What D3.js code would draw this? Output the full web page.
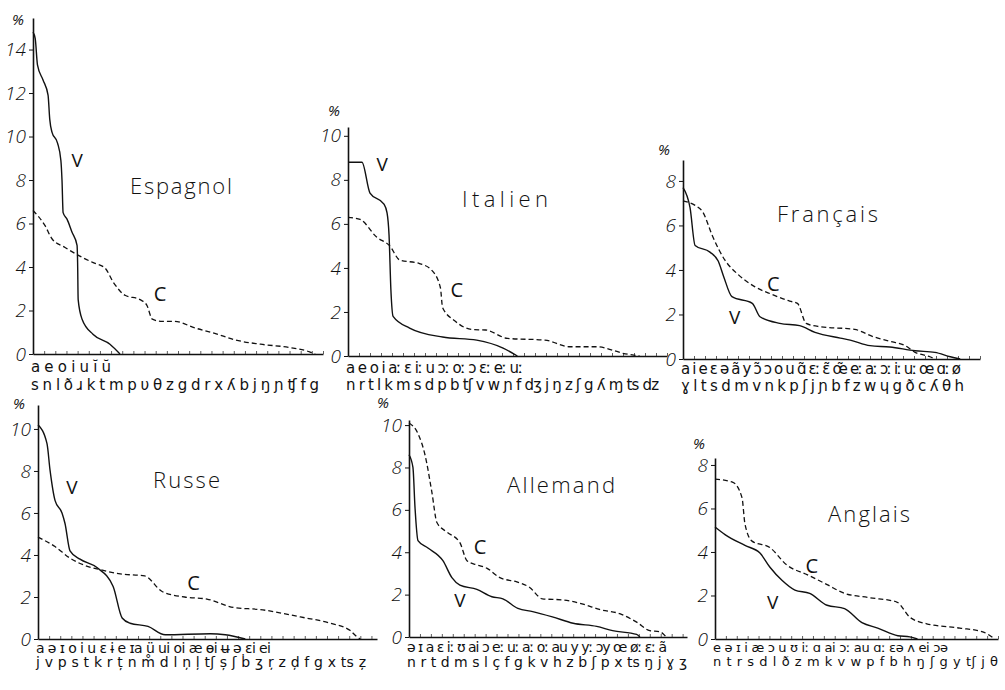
<!DOCTYPE html>
<html>
<head>
<meta charset="utf-8">
<script src="https://cdn.jsdelivr.net/npm/d3@7"></script>
<style>
  body { margin: 0; background: #fff; }
  svg { display: block; }
</style>
</head>
<body>
<svg id="chart" width="1005" height="690"></svg>
<script>
// Fréquence des phonèmes classés par rang (V = voyelles, C = consonnes)
// x = rang du phonème, y = fréquence en %

const espVowels = ["a", "e", "o", "i", "u", "ĭ", "ŭ"];
const espConsonants = ["s", "n", "l", "ð", "ɹ", "k", "t", "m", "p", "υ", "θ", "z", "g", "d", "r", "x", "ʎ", "b", "j", "ŋ", "ɲ", "ʧ", "f", "g"];
const espV = [[0, 14.8], [0.2, 14.5], [0.4, 13.3], [0.9, 12.6], [1.35, 11.9], [1.5, 10.8], [1.7, 10.2], [2.2, 9.7], [2.5, 8.9], [2.6, 8.0], [2.7, 6.5], [3.05, 6.2], [3.5, 5.6], [3.95, 5.0], [4.0, 4.2], [4.05, 2.5], [4.4, 1.6], [5.4, 0.9], [6.9, 0.45], [7.8, 0]];
const espC = [[0, 6.6], [1.08, 5.9], [1.7, 5.3], [2.87, 4.9], [4.2, 4.5], [5.4, 4.2], [6.46, 3.95], [7.2, 3.3], [8.25, 2.7], [9.6, 2.5], [10.2, 2.25], [10.7, 1.6], [11.6, 1.5], [12.7, 1.5], [14.5, 1.2], [16.3, 0.95], [18.1, 0.65], [20.4, 0.45], [23.0, 0.3], [24.8, 0.1], [25.3, 0]];
const espTicks = [0, 2, 4, 6, 8, 10, 12, 14];

const itaVowels = ["a", "e", "o", "i", "aː", "ɛ", "iː", "u", "ɔː", "oː", "ɔ", "ɛː", "eː", "uː"];
const itaConsonants = ["n", "r", "t", "l", "k", "m", "s", "d", "p", "b", "tʃ", "v", "w", "ɲ", "f", "dʒ", "j", "ŋ", "z", "ʃ", "g", "ʎ", "ɱ", "ts", "dz"];
const itaV = [[0, 8.8], [1.27, 8.8], [2.0, 7.4], [3.27, 6.9], [3.55, 6.5], [3.73, 5.5], [3.9, 3.0], [4.1, 1.8], [5.6, 1.27], [8.6, 0.86], [11.7, 0.72], [14.1, 0.36], [15.4, 0]];
const itaC = [[0, 6.3], [1.1, 6.2], [2.6, 5.4], [3.8, 5.0], [4.7, 4.36], [6.5, 4.2], [7.6, 3.9], [8.4, 3.1], [8.6, 2.2], [9.7, 1.6], [11.3, 1.2], [12.5, 1.18], [14.5, 0.8], [17.9, 0.72], [20.2, 0.42], [22.6, 0.42], [25.2, 0.1], [26.5, 0]];
const itaTicks = [0, 2, 4, 6, 8, 10];

const fraVowels = ["a", "i", "e", "ɛ", "ə", "ã", "y", "ɔ̃", "ɔ", "o", "u", "ɑ̃", "ɛː", "ɛ̃", "œ̃", "eː", "aː", "ɔː", "iː", "uː", "œ", "ɑː", "ø"];
const fraConsonants = ["ɣ", "l", "t", "s", "d", "m", "v", "n", "k", "p", "ʃ", "j", "ɲ", "b", "f", "z", "w", "ɥ", "g", "ð", "c", "ʎ", "θ", "h"];
const fraV = [[0, 7.7], [0.64, 6.8], [1.1, 5.1], [2.45, 4.8], [3.2, 4.4], [3.7, 3.7], [4.45, 2.8], [6.3, 2.5], [7.0, 1.9], [8.8, 1.6], [10.6, 1.5], [12.0, 1.2], [14.3, 0.94], [15.2, 0.85], [17.0, 0.6], [18.8, 0.54], [21.1, 0.37], [22.9, 0.3], [24.3, 0.1], [25.2, 0]];
const fraC = [[0, 7.1], [1.1, 6.9], [1.8, 6.6], [2.7, 5.5], [3.8, 4.45], [5.0, 3.8], [6.55, 3.24], [8.1, 2.9], [9.7, 2.6], [10.4, 2.5], [11.2, 1.6], [12.45, 1.45], [15.6, 1.33], [17.3, 1.0], [18.8, 0.8], [20.2, 0.6], [21.1, 0.3], [22.45, 0.1], [22.9, 0]];
const fraTicks = [0, 2, 4, 6, 8];

const rusVowels = ["a", "ə", "ɪ", "o", "i", "u", "ɛ", "ɨ", "e", "ɪa", "ü", "ui", "oi", "æ", "ɵi", "ʉ", "ə", "ɛi", "ei"];
const rusConsonants = ["j", "v", "p", "s", "t", "k", "r", "ț", "n", "m̊", "d", "l", "n̦", "l̦", "tʃ", "ș", "ʃ", "ḃ", "ʒ", "r̦", "z", "d̦", "f", "g", "x", "ts", "z̦"];
const rusV = [[0, 10.2], [0.81, 9.3], [1.08, 8.05], [1.53, 6.6], [2.16, 6.0], [2.43, 5.5], [2.88, 4.2], [3.78, 3.8], [5.3, 3.4], [6.76, 2.5], [7.57, 1.0], [8.29, 0.75], [9.9, 0.6], [11.44, 0.2], [15.5, 0.25], [16.85, 0.2], [18.65, 0]];
const rusC = [[0, 4.85], [1.53, 4.4], [2.88, 3.85], [4.23, 3.5], [5.6, 3.3], [7.4, 3.1], [9.6, 3.0], [11.2, 2.25], [13.2, 2.0], [15.2, 1.9], [17.6, 1.5], [20.0, 1.4], [23.6, 1.05], [26.3, 0.75], [28.1, 0.4], [28.7, 0.1], [29.0, 0]];
const rusTicks = [0, 2, 4, 6, 8, 10];

const allVowels = ["ə", "ɪ", "a", "ɛ", "iː", "ʊ", "ai", "ɔ", "eː", "uː", "aː", "oː", "au", "y", "yː", "ɔy", "œ", "øː", "ɛː", "ã"];
const allConsonants = ["n", "r", "t", "d", "m", "s", "l", "ç", "f", "g", "k", "v", "h", "z", "b", "ʃ", "p", "x", "ts", "ŋ", "j", "ɣ", "ʒ"];
const allV = [[0, 8.6], [0.36, 8.0], [0.55, 6.1], [0.82, 4.55], [1.73, 4.2], [3.1, 3.6], [3.92, 2.8], [4.65, 2.45], [6.2, 2.25], [7.57, 1.9], [8.58, 1.8], [9.95, 1.35], [11.3, 1.2], [13.1, 0.95], [15.0, 0.65], [17.15, 0.5], [18.6, 0.3], [20.8, 0.12], [21.1, 0]];
const allC = [[0, 10.1], [0.82, 9.6], [1.46, 8.6], [2.1, 6.8], [2.55, 5.4], [3.47, 4.95], [4.65, 4.45], [5.3, 3.6], [6.2, 3.4], [7.1, 3.25], [8.3, 2.8], [9.85, 2.6], [11.0, 2.35], [12.2, 1.8], [14.05, 1.75], [15.9, 1.55], [17.4, 1.3], [19.25, 1.1], [20.8, 0.7], [22.0, 0.3], [22.9, 0.25], [23.5, 0]];
const allTicks = [0, 2, 4, 6, 8, 10];

const angVowels = ["e", "ə", "ɪ", "i", "æ", "ɔ", "u", "ʊ", "iː", "ɑ", "ai", "ɔː", "au", "ɑː", "ɛə", "ʌ", "ei", "ɔə"];
const angConsonants = ["n", "t", "r", "s", "d", "l", "ð", "z", "m", "k", "v", "w", "p", "f", "b", "h", "ŋ", "ʃ", "g", "y", "tʃ", "j", "θ"];
const angV = [[0, 5.15], [0.92, 4.8], [2.75, 4.3], [4.13, 3.95], [5.05, 3.3], [6.15, 2.7], [7.34, 2.25], [8.7, 2.1], [10.3, 1.55], [11.9, 1.4], [13.5, 0.75], [14.95, 0.5], [16.8, 0.15], [17.9, 0.1], [18.6, 0]];
const angC = [[0, 7.35], [1.65, 7.2], [2.48, 6.5], [2.75, 5.3], [3.4, 4.5], [5.05, 4.2], [6.6, 3.4], [8.5, 2.95], [10.3, 2.5], [11.9, 2.1], [14.2, 1.9], [16.7, 1.7], [17.9, 1.0], [19.45, 0.7], [22.5, 0.5], [24.6, 0.33], [25.7, 0]];
const angTicks = [0, 2, 4, 6, 8];

// mise en page des six graphiques
const panels = [
  { title: "Espagnol", v: espV, c: espC, vowels: espVowels, cons: espConsonants, ticks: espTicks,
    xMax: 26, yMax: 15.45, left: 33, bottom: 354, width: 290, top: 18, pct: [18, 25],
    titleX: 130, titleY: 194, titleW: 102, vw: 80, cw: 288, vy: 18, cy: 36, fs: 15,
    vLab: [3.95, 8.9], cLab: [11.4, 2.8] },
  { title: "Italien", v: itaV, c: itaC, vowels: itaVowels, cons: itaConsonants, ticks: itaTicks,
    xMax: 29, yMax: 10.4, left: 348, bottom: 356, width: 319, top: 127, pct: [334, 116],
    titleX: 462, titleY: 207, titleW: 86, vw: 177, cw: 313, vy: 17, cy: 34, fs: 15,
    vLab: [3.1, 8.7], cLab: [9.9, 3.0] },
  { title: "Français", v: fraV, c: fraC, vowels: fraVowels, cons: fraConsonants, ticks: fraTicks,
    xMax: 27, yMax: 8.94, left: 683, bottom: 359, width: 297, top: 160, pct: [664, 155],
    titleX: 777, titleY: 222, titleW: 101, vw: 280, cw: 283, vy: 15, cy: 32, fs: 15,
    vLab: [4.7, 1.9], cLab: [8.2, 3.4] },
  { title: "Russe", v: rusV, c: rusC, vowels: rusVowels, cons: rusConsonants, ticks: rusTicks,
    xMax: 30.5, yMax: 11.14, left: 38, bottom: 639, width: 339, top: 405, pct: [19, 409],
    titleX: 153, titleY: 488, titleW: 67, vw: 235, cw: 330, vy: 14, cy: 28, fs: 14,
    vLab: [3.06, 7.24], cLab: [14.0, 2.67] },
  { title: "Allemand", v: allV, c: allC, vowels: allVowels, cons: allConsonants, ticks: allTicks,
    xMax: 25.4, yMax: 10.24, left: 409, bottom: 637, width: 278, top: 420, pct: [383, 408],
    titleX: 507, titleY: 493, titleW: 108, vw: 260, cw: 280, vy: 15, cy: 30, fs: 14,
    vLab: [4.65, 1.75], cLab: [6.5, 4.25] },
  { title: "Anglais", v: angV, c: angC, vowels: angVowels, cons: angConsonants, ticks: angTicks,
    xMax: 26, yMax: 8.32, left: 715, bottom: 639, width: 283, top: 458, pct: [699, 449],
    titleX: 828, titleY: 522, titleW: 82, vw: 235, cw: 285, vy: 13, cy: 27, fs: 13,
    vLab: [5.3, 1.7], cLab: [8.9, 3.4] }
];

const svg = d3.select("#chart");
const font = "'Open Sans', 'DejaVu Sans', sans-serif";

panels.forEach((p) => {
  const x = d3.scaleLinear().domain([0, p.xMax]).range([p.left, p.left + p.width]);
  const y = d3.scaleLinear().domain([0, p.yMax]).range([p.bottom, p.top]);
  const g = svg.append("g");

  // axe des x (rangs)
  const xAxis = g.append("g")
    .attr("transform", `translate(0,${p.bottom})`)
    .call(d3.axisBottom(x)
      .tickValues(d3.range(1, Math.floor(p.xMax) + 1))
      .tickSize(-3)
      .tickSizeOuter(0)
      .tickFormat(""));
  xAxis.select(".domain").attr("stroke", "#111").attr("stroke-width", 1.6);
  xAxis.selectAll(".tick line").attr("stroke", "#333").attr("stroke-width", 0.8);

  // axe des y (%)
  const yAxis = g.append("g")
    .attr("transform", `translate(${p.left},0)`)
    .call(d3.axisLeft(y)
      .tickValues(p.ticks)
      .tickSize(4)
      .tickSizeOuter(0)
      .tickPadding(3));
  yAxis.select(".domain").attr("stroke", "#111").attr("stroke-width", 1.6);
  yAxis.selectAll(".tick line").attr("stroke", "#111").attr("stroke-width", 1);
  yAxis.selectAll(".tick text")
    .attr("font-family", font)
    .attr("font-size", 19)
    .attr("font-style", "italic")
    .attr("font-weight", 300)
    .attr("fill", "#111");

  g.append("text")
    .attr("x", p.pct[0])
    .attr("y", p.pct[1])
    .attr("text-anchor", "middle")
    .attr("font-family", font)
    .attr("font-size", 15)
    .attr("font-style", "italic")
    .attr("fill", "#111")
    .text("%");

  const line = d3.line()
    .x((d) => x(d[0]))
    .y((d) => y(d[1]))
    .curve(d3.curveMonotoneX);

  // consonnes (tirets)
  g.append("path")
    .datum(p.c)
    .attr("fill", "none")
    .attr("stroke", "#111")
    .attr("stroke-width", 1.3)
    .attr("stroke-dasharray", "5,3")
    .attr("d", line);

  // voyelles (trait plein)
  g.append("path")
    .datum(p.v)
    .attr("fill", "none")
    .attr("stroke", "#111")
    .attr("stroke-width", 1.4)
    .attr("d", line);

  g.append("text")
    .attr("x", x(p.vLab[0]))
    .attr("y", y(p.vLab[1]))
    .attr("text-anchor", "middle")
    .attr("dominant-baseline", "central")
    .attr("font-family", font)
    .attr("font-size", 19)
    .attr("fill", "#111")
    .text("V");

  g.append("text")
    .attr("x", x(p.cLab[0]))
    .attr("y", y(p.cLab[1]))
    .attr("text-anchor", "middle")
    .attr("dominant-baseline", "central")
    .attr("font-family", font)
    .attr("font-size", 20)
    .attr("fill", "#111")
    .text("C");

  g.append("text")
    .attr("x", p.titleX)
    .attr("y", p.titleY)
    .attr("font-family", font)
    .attr("font-size", 22)
    .attr("font-weight", 300)
    .attr("fill", "#111")
    .attr("textLength", p.titleW)
    .attr("lengthAdjust", "spacing")
    .text(p.title);

  // phonèmes sous l'axe
  g.append("text")
    .attr("x", p.left - 2)
    .attr("y", p.bottom + p.vy)
    .attr("font-family", "'DejaVu Sans', sans-serif")
    .attr("font-size", p.fs)
    .attr("fill", "#111")
    .attr("textLength", p.vw)
    .attr("lengthAdjust", "spacing")
    .text(p.vowels.join(" "));

  g.append("text")
    .attr("x", p.left - 2)
    .attr("y", p.bottom + p.cy)
    .attr("font-family", "'DejaVu Sans', sans-serif")
    .attr("font-size", p.fs)
    .attr("fill", "#111")
    .attr("textLength", p.cw)
    .attr("lengthAdjust", "spacing")
    .text(p.cons.join(" "));
});
</script>
</body>
</html>
